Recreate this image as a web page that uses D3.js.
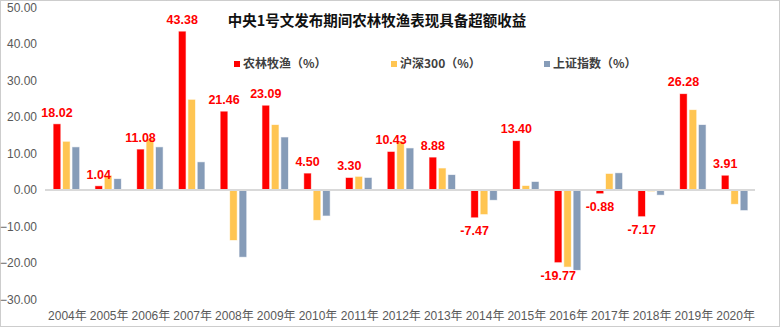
<!DOCTYPE html>
<html>
<head>
<meta charset="utf-8">
<script src="https://cdn.jsdelivr.net/npm/d3@7"></script>
<style>
  html, body { margin: 0; padding: 0; background: #fff; }
  svg { display: block; }
  text { font-family: "Liberation Sans", Arial, "Noto Sans CJK SC", sans-serif; }
</style>
</head>
<body>
<svg id="chart" width="781" height="328"></svg>
<script>
// Annual returns during No.1 Central Document release periods (%)
const years = ["2004年","2005年","2006年","2007年","2008年","2009年","2010年","2011年","2012年",
               "2013年","2014年","2015年","2016年","2017年","2018年","2019年","2020年"];
const seriesNames = ["农林牧渔（%）", "沪深300（%）", "上证指数（%）"];
const agriculture = [18.02, 1.04, 11.08, 43.38, 21.46, 23.09, 4.50, 3.30, 10.43, 8.88, -7.47, 13.40, -19.77, -0.88, -7.17, 26.28, 3.91];
const csi300      = [13.2, 3.9, 13.9, 24.7, -13.7, 17.8, -8.2, 3.6, 13.2, 5.9, -6.6, 1.1, -21.0, 4.4, -0.3, 21.9, -3.8];
const shIndex     = [11.7, 3.0, 11.7, 7.6, -18.3, 14.4, -7.0, 3.3, 11.4, 4.1, -2.7, 2.2, -21.9, 4.6, -1.3, 17.8, -5.5];
const yTicks = [50, 40, 30, 20, 10, 0, -10, -20, -30];
const colors = ["#ff0000", "#ffc552", "#869cb8"];

const allSeries = [agriculture, csi300, shIndex];
const svg = d3.select("#chart");

// outer dotted frame
svg.append("rect")
  .attr("x", 0.5).attr("y", 0.5).attr("width", 779).attr("height", 326)
  .attr("fill", "none").attr("stroke", "#9a9a9a").attr("stroke-dasharray", "1,1");

const x0 = d3.scaleBand().domain(years).range([45.5, 755.5]).paddingInner(0).paddingOuter(0);
const x1 = d3.scaleBand().domain(d3.range(3)).range([0, x0.bandwidth()])
  .paddingInner(0.29).paddingOuter(0.86);
const y = d3.scaleLinear().domain([-30, 50]).range([299.5, 7.5]);

// y axis labels
const yAxis = d3.axisLeft(y).tickValues(yTicks).tickFormat(d3.format(".2f")).tickSize(0).tickPadding(0);
const gy = svg.append("g").attr("transform", "translate(37,0)").call(yAxis);
gy.select(".domain").remove();
gy.selectAll("text").attr("fill", "#595959").style("font-size", "12px")
  .style("font-family", "'Liberation Sans', Arial, sans-serif");

// bars
const groups = svg.append("g").selectAll("g")
  .data(years).join("g")
  .attr("transform", d => `translate(${x0(d)},0)`);

groups.selectAll("rect")
  .data((d, i) => allSeries.map((s, k) => ({ k, v: s[i] })))
  .join("rect")
  .attr("x", d => x1(d.k))
  .attr("width", x1.bandwidth())
  .attr("y", d => y(Math.max(0, d.v)))
  .attr("height", d => Math.abs(y(d.v) - y(0)))
  .attr("fill", d => colors[d.k])
  .attr("stroke", d => colors[d.k])
  .attr("stroke-opacity", 0.35)
  .attr("stroke-width", 1);

// zero line
svg.append("line")
  .attr("x1", 45).attr("x2", 755)
  .attr("y1", y(0)).attr("y2", y(0))
  .attr("stroke", "#d9d9d9").attr("stroke-width", 2);

// value labels on the agriculture bars
groups.append("text")
  .datum((d, i) => agriculture[i])
  .attr("x", x1(0) + x1.bandwidth() / 2)
  .attr("y", v => v >= 0 ? y(v) - 12 : y(v) + 13)
  .attr("dy", "0.35em")
  .attr("text-anchor", "middle")
  .attr("fill", "#ff0000")
  .style("font-size", "12.5px")
  .style("font-weight", "bold")
  .text(v => v.toFixed(2));

// x axis labels
const xAxis = d3.axisBottom(x0).tickSize(0).tickPadding(0);
const gx = svg.append("g").attr("transform", "translate(1,311)").call(xAxis);
gx.select(".domain").remove();
gx.selectAll("text").attr("fill", "#595959").style("font-size", "12px")
  .style("font-family", "'Liberation Sans', Arial, 'Noto Sans CJK SC', sans-serif");

// title
svg.append("text")
  .attr("x", 377).attr("y", 21).attr("dy", "0.35em")
  .attr("text-anchor", "middle")
  .attr("fill", "#111")
  .style("font-family", "'Noto Sans CJK SC', sans-serif")
  .style("font-size", "14.5px")
  .style("font-weight", "bold")
  .text("中央1号文发布期间农林牧渔表现具备超额收益");

// legend
const legendX = [234, 391, 544];
const lg = svg.append("g").selectAll("g").data(seriesNames).join("g")
  .attr("transform", (d, i) => `translate(${legendX[i]},64)`);
lg.append("rect").attr("x", 0).attr("y", -3).attr("width", 6).attr("height", 6)
  .attr("fill", (d, i) => colors[i]);
lg.append("text").attr("x", 9).attr("y", 0).attr("dy", "0.36em")
  .attr("fill", "#404040")
  .style("font-family", "'Noto Sans CJK SC', sans-serif")
  .style("font-size", "12px")
  .style("font-weight", "bold")
  .text(d => d);
</script>
</body>
</html>
